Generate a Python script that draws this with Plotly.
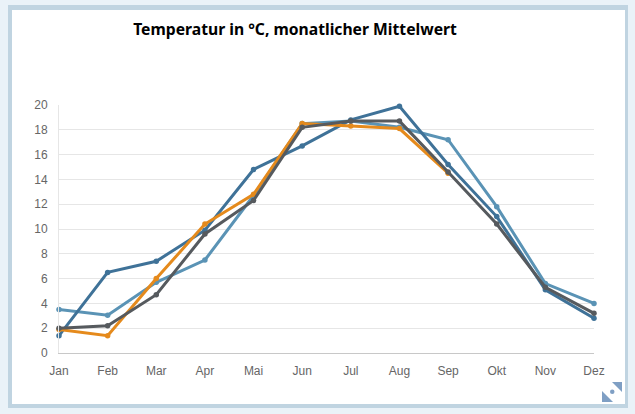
import plotly.graph_objects as go

months = ["Jan", "Feb", "Mar", "Apr", "Mai", "Jun", "Jul", "Aug", "Sep", "Okt", "Nov", "Dez"]
light_blue = [3.5, 3.05, 5.7, 7.5, 12.7, 18.5, 18.7, 18.2, 17.2, 11.8, 5.6, 4.0]
mid_blue = [1.4, 6.5, 7.4, 9.9, 14.8, 16.7, 18.8, 19.9, 15.2, 11.0, 5.1, 2.8]
orange = [1.9, 1.4, 6.0, 10.4, 12.8, 18.5, 18.3, 18.1, 14.5]
grey = [2.0, 2.2, 4.7, 9.6, 12.3, 18.2, 18.7, 18.7, 14.6, 10.4, 5.3, 3.2]
y_ticks = list(range(0, 21, 2))

W, H = 635, 414
L, R, T, B = 59, 41, 105, 61


def px(x):
    return (x - L) / (W - L - R)


def py(y):
    return 1 - (y - T) / (H - T - B)


def path(points):
    return "M " + " L ".join(f"{px(x):.5f},{py(y):.5f}" for x, y in points) + " Z"


fig = go.Figure()
for name, vals, col in [
    ("Reihe 1", light_blue, "#5a93b5"),
    ("Reihe 2", mid_blue, "#3f7298"),
    ("Reihe 3", orange, "#e58a1c"),
    ("Reihe 4", grey, "#565a5e"),
]:
    fig.add_trace(go.Scatter(
        x=months[:len(vals)], y=vals, mode="lines+markers", name=name,
        line=dict(color=col, width=3), marker=dict(color=col, size=5.5),
        cliponaxis=False,
    ))

shapes = [
    dict(type="rect", xref="paper", yref="paper", layer="below",
         x0=px(8), x1=px(628), y0=py(5), y1=py(408),
         fillcolor="#c0d4e1", line_width=0),
    dict(type="rect", xref="paper", yref="paper", layer="below",
         x0=px(12), x1=px(625), y0=py(10), y1=py(404),
         fillcolor="#ffffff", line_width=0),
    dict(type="path", xref="paper", yref="paper", line_width=0, fillcolor="#7f9fc4",
         path=path([(622, 382), (612, 382), (622, 392)])),
    dict(type="path", xref="paper", yref="paper", line_width=0, fillcolor="#7f9fc4",
         path=path([(602, 391), (602, 402), (613, 402)])),
    dict(type="circle", xref="paper", yref="paper", line_width=0, fillcolor="#7f9fc4",
         x0=px(610), x1=px(614.5), y0=py(394), y1=py(389.5)),
]

fig.update_layout(
    width=W, height=H, autosize=False,
    margin=dict(l=L, r=R, t=T, b=B),
    paper_bgcolor="#eaf2f8", plot_bgcolor="rgba(0,0,0,0)",
    showlegend=False, shapes=shapes,
    title=dict(
        text="<b>Temperatur in °C, monatlicher Mittelwert</b>",
        x=295 / W, xanchor="center", xref="container",
        y=1 - 30 / H, yanchor="middle", yref="container",
        font=dict(family="Noto Sans", size=15.7, color="#000000"),
    ),
    xaxis=dict(
        type="category", categoryorder="array", categoryarray=months,
        range=[0, 11], showgrid=False, zeroline=False,
        showline=True, linecolor="#c8c8c8", linewidth=1,
        ticks="outside", ticklen=7, tickcolor="rgba(0,0,0,0)",
        tickfont=dict(family="Liberation Sans", size=12, color="#666666"),
    ),
    yaxis=dict(
        range=[0, 20], tickvals=y_ticks, gridcolor="#e6e6e6", gridwidth=1,
        showline=True, linecolor="#e6e6e6", linewidth=1, zeroline=False,
        ticks="outside", ticklen=8, tickcolor="rgba(0,0,0,0)",
        tickfont=dict(family="Liberation Sans", size=12, color="#666666"),
    ),
)
fig.write_html("out.html", post_script="document.body.style.margin='0';",
               config={"displayModeBar": False})
